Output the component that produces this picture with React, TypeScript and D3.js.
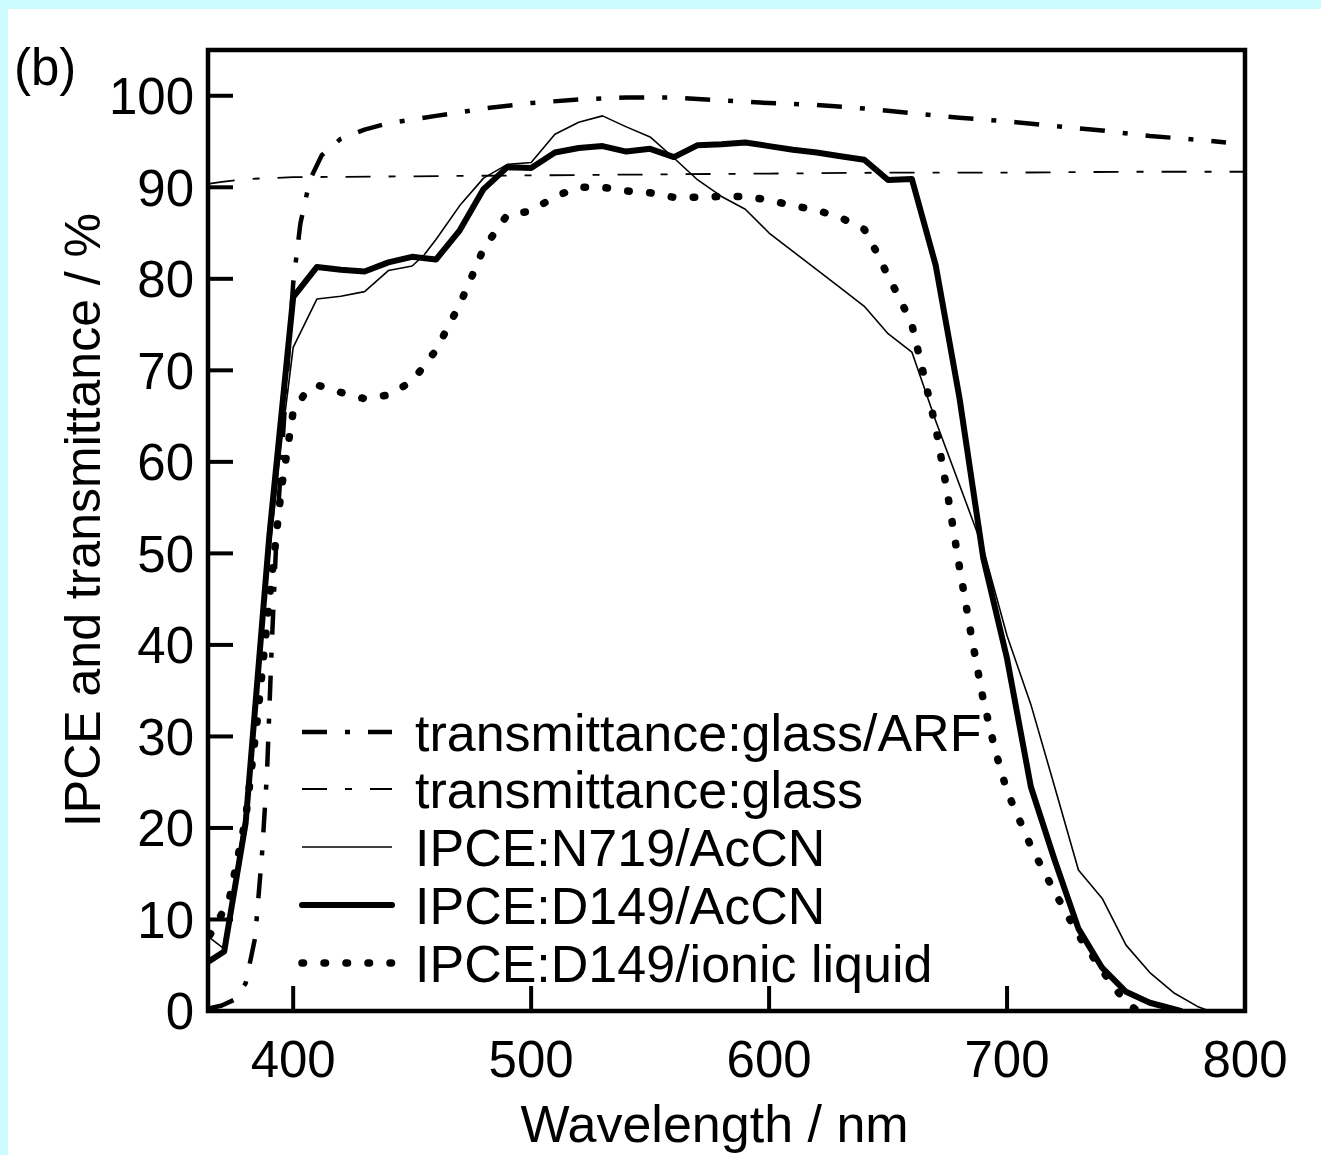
import React from "react";
import * as d3 from "d3";

// ---- data ----
const xTicks = [400, 500, 600, 700, 800];
const yTicks = [0, 10, 20, 30, 40, 50, 60, 70, 80, 90, 100];

const arfWl = [365, 370, 375, 380, 384, 387, 389, 391, 393, 395, 397, 400, 403, 407, 412, 420, 430, 440, 460, 480, 500, 520, 540, 560, 580, 600, 620, 640, 660, 680, 700, 720, 740, 760, 780, 792];
const arfVal = [0.3, 0.6, 1.2, 3, 8, 17.5, 26, 40, 52, 60, 68, 79.5, 86, 90.8, 93.5, 95.3, 96.3, 97, 97.8, 98.6, 99.2, 99.6, 99.8, 99.8, 99.5, 99.2, 99, 98.6, 98.1, 97.6, 97.2, 96.7, 96.2, 95.6, 95.2, 94.9];

const glassWl = [365, 370, 380, 390, 400, 450, 500, 550, 600, 650, 700, 750, 800];
const glassVal = [90.4, 90.6, 90.9, 91.0, 91.1, 91.2, 91.3, 91.4, 91.5, 91.6, 91.6, 91.7, 91.7];

const n719Wl = [365, 371, 380, 390, 395, 400, 410, 420, 430, 440, 450, 455, 460, 470, 480, 490, 500, 510, 520, 530, 540, 550, 560, 570, 580, 590, 600, 610, 620, 630, 640, 650, 660, 670, 680, 690, 700, 710, 720, 730, 740, 750, 760, 770, 780, 785];
const n719Val = [8, 6.8, 22, 50, 62, 72.5, 77.8, 78.1, 78.6, 80.9, 81.4, 82.6, 84.3, 88, 91, 92.5, 92.7, 95.8, 97.1, 97.8, 96.6, 95.5, 93.2, 90.8, 89, 87.6, 85, 83, 81, 79, 77, 74, 72, 64.5, 57.5, 50.5, 41, 33.5, 24.5, 15.4, 12.3, 7.2, 4.2, 2, 0.5, 0];

const d149AcWl = [365, 371, 380, 390, 400, 410, 420, 430, 440, 450, 460, 470, 480, 490, 500, 510, 520, 530, 540, 550, 560, 570, 580, 590, 600, 610, 620, 630, 640, 650, 660, 670, 680, 690, 700, 710, 720, 730, 740, 750, 760, 773];
const d149AcVal = [5.5, 6.5, 20.5, 52, 78, 81.3, 81, 80.8, 81.8, 82.4, 82.1, 85.3, 89.8, 92.2, 92.1, 93.8, 94.3, 94.5, 93.9, 94.2, 93.3, 94.6, 94.7, 94.9, 94.5, 94.1, 93.8, 93.4, 93.0, 90.8, 90.9, 81.5, 67, 49.5, 38.5, 24.5, 16.5, 9, 4.7, 2.1, 0.9, 0];

const d149IlWl = [365, 373, 380, 385, 390, 395, 400, 405, 410, 420, 430, 440, 450, 460, 470, 475, 480, 490, 500, 510, 520, 530, 540, 550, 560, 570, 580, 590, 600, 610, 620, 630, 640, 645, 650, 655, 660, 665, 670, 675, 680, 685, 690, 695, 700, 710, 720, 730, 740, 750, 755];
const d149IlVal = [8.3, 12, 21, 32, 45, 57, 65.5, 67.5, 68.4, 67.6, 66.9, 67.3, 68.8, 72.2, 77.2, 80.2, 83.3, 87, 87.4, 89, 90, 90, 89.6, 89.4, 88.9, 88.9, 89, 89, 88.6, 88, 87.5, 86.7, 85.4, 83, 80.3, 77.8, 75, 69.5, 63.8, 56.5, 48.5, 41, 34, 28.5, 24, 18, 13, 8.3, 4.4, 0.9, 0];

const seriesNames = [
  "transmittance:glass/ARF",
  "transmittance:glass",
  "IPCE:N719/AcCN",
  "IPCE:D149/AcCN",
  "IPCE:D149/ionic liquid",
];

const W = 1321;
const H = 1155;
const M = { left: 208, top: 50, right: 1245, bottom: 1011 };
const FONT = "'Liberation Sans', Arial, Helvetica, sans-serif";

export default function App() {
  const x = d3.scaleLinear().domain([364.2, 800]).range([M.left, M.right]);
  const y = d3.scaleLinear().domain([0, 105]).range([M.bottom, M.top]);

  const mk = (wl: number[], v: number[]) => {
    const line = d3
      .line<number>()
      .x((_, i) => x(wl[i]))
      .y((d) => y(d));
    return line(v) || "";
  };

  const styles = [
    { w: 4.5, dash: "25 18 5 18", cap: "butt" },
    { w: 1.8, dash: "25 18 7 18", cap: "butt" },
    { w: 1.6, dash: "", cap: "butt" },
    { w: 6, dash: "", cap: "round" },
    { w: 7.5, dash: "1.5 20.5", cap: "round" },
  ];
  const paths = [
    mk(arfWl, arfVal),
    mk(glassWl, glassVal),
    mk(n719Wl, n719Val),
    mk(d149AcWl, d149AcVal),
    mk(d149IlWl, d149IlVal),
  ];

  const legendY = [732, 789, 847, 905, 963];

  return (
    <svg
      width={W}
      height={H}
      style={{ position: "absolute", left: 0, top: 0 }}
      fontFamily={FONT}
    >
      <rect x={0} y={0} width={W} height={H} fill="#ccfcff" />
      <rect x={8} y={9} width={W - 8} height={H - 9} fill="#ffffff" />
      <defs>
        <clipPath id="plot">
          <rect x={M.left} y={M.top} width={M.right - M.left} height={M.bottom - M.top} />
        </clipPath>
      </defs>

      <g clipPath="url(#plot)">
        {paths.map((p, i) => (
          <path
            key={i}
            d={p}
            fill="none"
            stroke="#000"
            strokeWidth={styles[i].w}
            strokeDasharray={styles[i].dash || undefined}
            strokeLinecap={styles[i].cap as any}
            strokeLinejoin="round"
          />
        ))}
      </g>

      {/* frame */}
      <rect
        x={M.left}
        y={M.top}
        width={M.right - M.left}
        height={M.bottom - M.top}
        fill="none"
        stroke="#000"
        strokeWidth={4.5}
      />

      {/* y ticks */}
      {yTicks.map((t) => (
        <g key={"y" + t}>
          <line x1={M.left} x2={M.left + 25} y1={y(t)} y2={y(t)} stroke="#000" strokeWidth={4} />
          <text x={194} y={y(t)} dy="0.36em" textAnchor="end" fontSize={51}>
            {t}
          </text>
        </g>
      ))}
      {/* x ticks */}
      {xTicks.map((t) => (
        <g key={"x" + t}>
          <line x1={x(t)} x2={x(t)} y1={M.bottom} y2={M.bottom - 25} stroke="#000" strokeWidth={4} />
          <text x={x(t)} y={1077} textAnchor="middle" fontSize={51}>
            {t}
          </text>
        </g>
      ))}

      <text x={(M.left + M.right) / 2 - 12} y={1142} textAnchor="middle" fontSize={52}>
        Wavelength / nm
      </text>
      <text
        transform={`translate(100, 520) rotate(-90)`}
        textAnchor="middle"
        fontSize={50}
      >
        IPCE and transmittance / %
      </text>
      <text x={14} y={85} fontSize={51}>
        (b)
      </text>

      {/* legend */}
      {seriesNames.map((name, i) => (
        <g key={name}>
          <line
            x1={302}
            x2={392}
            y1={legendY[i]}
            y2={legendY[i]}
            stroke="#000"
            strokeWidth={styles[i].w}
            strokeDasharray={styles[i].dash || undefined}
            strokeLinecap={styles[i].cap as any}
          />
          <text x={415} y={legendY[i]} dy="0.36em" fontSize={52}>
            {name}
          </text>
        </g>
      ))}
    </svg>
  );
}
